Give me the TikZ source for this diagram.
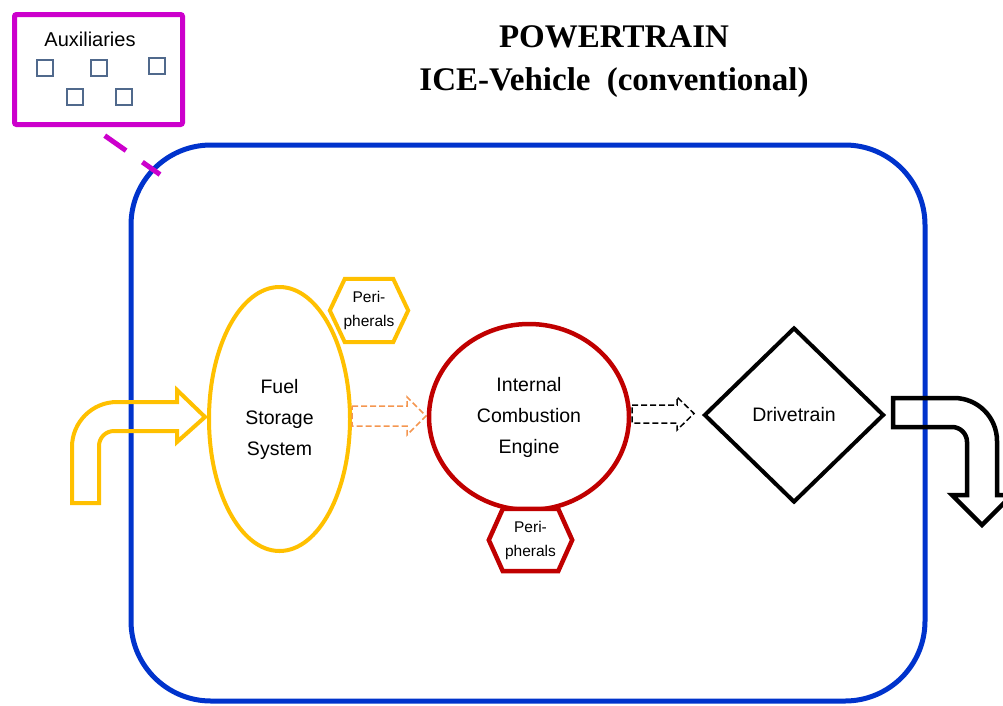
\documentclass[tikz,border=0pt]{standalone}
\usepackage{fontspec}
\setmainfont{Liberation Sans}
\newfontfamily\titlefont{Liberation Serif}
\usetikzlibrary{shapes.geometric}
\definecolor{ptblue}{RGB}{0,51,204}
\definecolor{auxmag}{RGB}{204,0,204}
\definecolor{fuelgold}{RGB}{255,192,0}
\definecolor{icered}{RGB}{192,0,0}
\definecolor{flowor}{RGB}{244,150,80}
\definecolor{sqslate}{RGB}{80,105,140}
\begin{document}
\begin{tikzpicture}[x=1pt,y=-1pt,
  lbl/.style={font=\fontsize{19.5}{31}\selectfont, align=center, text=black},
  perilbl/.style={font=\fontsize{15.5}{24}\selectfont, align=center, text=black},
  auxsq/.style={draw=sqslate, line width=2pt, minimum size=16pt, inner sep=0pt},
  hollowflow/.style={line width=1.5pt, dash pattern=on 6pt off 3pt, line join=miter},
  bigarrow/.style={line width=4.5pt, line join=miter},
  hexline/.style={line width=4.5pt, line join=miter, fill=white}]
\useasboundingbox (0,0) rectangle (1003,705);
\clip (0,0) rectangle (1003,705);

% title
\node[font=\titlefont\bfseries\fontsize{33}{43}\selectfont, align=center] (title) at (614,62)
  {POWERTRAIN\\ICE-Vehicle\hspace{8pt} (conventional)};

% powertrain box
\node[draw=ptblue, line width=5pt, rounded corners=80pt, minimum width=794pt, minimum height=556pt, inner sep=0pt] (pt) at (528,423) {};

% auxiliaries
\node[draw=auxmag, line width=5pt, rounded corners=2pt, minimum width=168pt, minimum height=110pt, inner sep=0pt] (aux) at (98.5,69.5) {};
\node[font=\fontsize{20}{24}\selectfont, anchor=base] (auxtxt) at (90,46) {Auxiliaries};
\node[auxsq] (sq1) at (44.5,68) {};
\node[auxsq] (sq2) at (99,67.5) {};
\node[auxsq] (sq3) at (156.5,66) {};
\node[auxsq] (sq4) at (75,97) {};
\node[auxsq] (sq5) at (123.5,97) {};
\coordinate (auxlinkend) at (160,174.5);
\draw[auxmag, line width=5pt, dash pattern=on 26pt off 20pt, shorten <=15pt] ([xshift=-6pt]aux.south) -- (auxlinkend);

% input arrow
\draw[fuelgold, bigarrow, line width=4pt] (72,503) -- (72,447) .. controls (72,422.15) and (92.15,402) .. (117,402)
  -- (177,402) -- (177,390) -- (205,417) -- (177,442) -- (177,431) -- (114,431)
  .. controls (105.7,431) and (99,437.7) .. (99,446) -- (99,503) -- cycle;

% fuel storage
\node[ellipse, draw=fuelgold, line width=4pt, minimum width=141pt, minimum height=264pt, inner sep=0pt, lbl] (fss) at (279.5,419) {Fuel\\Storage\\System};

% peripherals (fuel)
\node[minimum width=78pt, minimum height=63pt, inner sep=0pt] (per1) at (369,310.5) {};
\draw[fuelgold, hexline, line width=4pt] (per1.west) -- ([xshift=15pt]per1.north west) -- ([xshift=-15pt]per1.north east)
  -- (per1.east) -- ([xshift=-15pt]per1.south east) -- ([xshift=15pt]per1.south west) -- cycle;
\node[perilbl] (per1txt) at (per1) {Peri-\\pherals};

% orange dashed flow
\draw[flowor, hollowflow] (352,406) -- (407,406) -- (407,397) -- (426,416) -- (407,435) -- (407,426) -- (352,426) -- cycle;

% ICE
\node[ellipse, draw=icered, line width=4.5pt, minimum width=200pt, minimum height=186pt, inner sep=0pt, lbl] (ice) at (529,417) {Internal\\Combustion\\Engine};

% peripherals (ICE)
\node[minimum width=83pt, minimum height=62pt, inner sep=0pt] (per2) at (530.5,540) {};
\draw[icered, hexline] (per2.west) -- ([xshift=14pt]per2.north west) -- ([xshift=-14pt]per2.north east)
  -- (per2.east) -- ([xshift=-14pt]per2.south east) -- ([xshift=14pt]per2.south west) -- cycle;
\node[perilbl] (per2txt) at (per2) {Peri-\\pherals};

% black dashed flow
\draw[black, hollowflow] (632,405) -- (677,405) -- (677,397) -- (694,413.5) -- (677,430) -- (677,423) -- (632,423) -- cycle;

% drivetrain
\node[diamond, draw=black, line width=4pt, minimum width=180pt, minimum height=175pt, inner sep=0pt, lbl] (dt) at (794,415) {Drivetrain};

% output arrow
\draw[black, bigarrow] (893,398) -- (954,398) .. controls (977.75,398) and (997,417.25) .. (997,441)
  -- (997,495) -- (1012,495) -- (982,525) -- (952,495) -- (967,495) -- (967,442)
  .. controls (967,433.7) and (960.3,427) .. (952,427) -- (893,427) -- cycle;
\end{tikzpicture}
\end{document}
